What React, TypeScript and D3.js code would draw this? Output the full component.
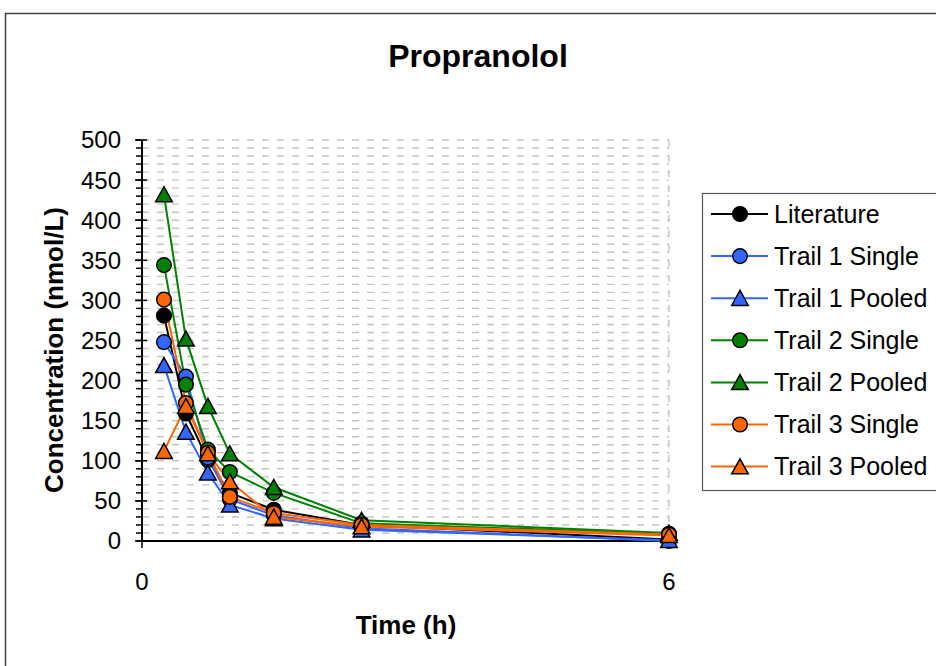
import React from "react";
import * as d3 from "d3";

const times = [0.25, 0.5, 0.75, 1, 1.5, 2.5, 6];
const literature = [281, 159, 101, 60, 39, 20, 2];
const trail1Single = [248, 205, 104, 52, 32, 16, 0];
const trail1Pooled = [219, 136, 85, 45, 28, 14, 1];
const trail2Single = [344, 195, 114, 86, 60, 22, 9];
const trail2Pooled = [432, 252, 168, 109, 67, 26, 10];
const trail3Single = [301, 172, 110, 55, 35, 20, 8];
const trail3Pooled = [112, 168, 109, 74, 30, 18, 7];

const seriesNames = [
  "Literature",
  "Trail 1 Single",
  "Trail 1 Pooled",
  "Trail 2 Single",
  "Trail 2 Pooled",
  "Trail 3 Single",
  "Trail 3 Pooled",
];
const seriesValues = [literature, trail1Single, trail1Pooled, trail2Single, trail2Pooled, trail3Single, trail3Pooled];
const seriesColors = ["#000000", "#3366FF", "#3366FF", "#008000", "#008000", "#FF6600", "#FF6600"];
const seriesMarkers = ["circle", "circle", "triangle", "circle", "triangle", "circle", "triangle"];

const yMajorTicks = [0, 50, 100, 150, 200, 250, 300, 350, 400, 450, 500];
const xTicks = [0, 6];

const FONT = "'Liberation Sans', Arial, Helvetica, sans-serif";

function Marker({ type, x, y, fill }: { type: string; x: number; y: number; fill: string }) {
  if (type === "circle") {
    return <circle cx={x} cy={y} r={7.3} fill={fill} stroke="#000" strokeWidth={1.5} />;
  }
  const path = `M${x},${y - 7.8}L${x + 8.3},${y + 7.2}L${x - 8.3},${y + 7.2}Z`;
  return <path d={path} fill={fill} stroke="#000" strokeWidth={1.5} strokeLinejoin="miter" />;
}

export default function App() {
  const x = d3.scaleLinear().domain([0, 6]).range([142, 669]);
  const y = d3.scaleLinear().domain([0, 500]).range([541, 140]);
  const minorTicks = d3.range(0, 501, 10);
  const line = d3
    .line<number>()
    .x((_, i) => x(times[i]))
    .y((d) => y(d));

  const legendX = 702;
  const legendY = 193;
  const legendStep = 42.1;
  const legendFirst = 214;

  return (
    <svg
      width={936}
      height={666}
      style={{ position: "absolute", left: 0, top: 0, background: "#fff" }}
      fontFamily={FONT}
    >
      <rect x={0} y={0} width={936} height={666} fill="#fff" />
      <rect x={5.5} y={13.5} width={1000} height={800} fill="#fff" stroke="#404040" strokeWidth={1.5} />

      <text x={478} y={67} textAnchor="middle" fontSize={32} fontWeight="bold">
        Propranolol
      </text>

      {/* gridlines */}
      {minorTicks
        .filter((t) => t > 0)
        .map((t) => (
          <line
            key={"g" + t}
            x1={x(0)}
            x2={x(6)}
            y1={y(t)}
            y2={y(t)}
            stroke="#c4c4c4"
            strokeWidth={1.4}
            strokeDasharray="7,8"
          />
        ))}
      <line x1={x(6)} x2={x(6)} y1={y(500)} y2={y(0)} stroke="#c4c4c4" strokeWidth={1.4} strokeDasharray="7,8" />

      {/* axes */}
      {minorTicks.map((t) => (
        <line key={"mt" + t} x1={x(0) - 6} x2={x(0)} y1={y(t)} y2={y(t)} stroke="#000" strokeWidth={1.5} />
      ))}
      {yMajorTicks.map((t) => (
        <line key={"Mt" + t} x1={x(0) - 7} x2={x(0) + 5} y1={y(t)} y2={y(t)} stroke="#000" strokeWidth={1.5} />
      ))}
      <line x1={x(0)} x2={x(0)} y1={y(500)} y2={y(0) + 1} stroke="#000" strokeWidth={2} />
      <line x1={x(0)} x2={x(6)} y1={y(0)} y2={y(0)} stroke="#000" strokeWidth={2} />
      {xTicks.map((t) => (
        <line key={"xt" + t} x1={x(t)} x2={x(t)} y1={y(0) - 5} y2={y(0) + 7} stroke="#000" strokeWidth={1.5} />
      ))}

      {yMajorTicks.map((t) => (
        <text key={"yl" + t} x={121} y={y(t)} dy="0.35em" textAnchor="end" fontSize={24}>
          {t}
        </text>
      ))}
      {xTicks.map((t) => (
        <text key={"xl" + t} x={x(t)} y={590} textAnchor="middle" fontSize={24}>
          {t}
        </text>
      ))}

      <text x={406} y={634} textAnchor="middle" fontSize={26} fontWeight="bold">
        Time (h)
      </text>
      <text transform="translate(63,350) rotate(-90)" textAnchor="middle" fontSize={26} fontWeight="bold">
        Concentration (nmol/L)
      </text>

      {/* series lines */}
      {seriesValues.map((vals, si) => (
        <path key={"l" + si} d={line(vals) || ""} fill="none" stroke={seriesColors[si]} strokeWidth={2} />
      ))}
      {/* markers */}
      {seriesValues.map((vals, si) =>
        vals.map((v, i) => (
          <Marker key={"m" + si + "-" + i} type={seriesMarkers[si]} x={x(times[i])} y={y(v)} fill={seriesColors[si]} />
        ))
      )}

      {/* legend */}
      <rect x={legendX + 0.5} y={legendY + 0.5} width={300} height={297} fill="#fff" stroke="#555" strokeWidth={1.2} />
      {seriesNames.map((name, i) => {
        const ly = legendFirst + i * legendStep;
        return (
          <g key={"lg" + i}>
            <line x1={711} x2={768} y1={ly} y2={ly} stroke={seriesColors[i]} strokeWidth={2} />
            <Marker type={seriesMarkers[i]} x={740} y={ly} fill={seriesColors[i]} />
            <text x={774} y={ly} dy="0.35em" fontSize={25}>
              {name}
            </text>
          </g>
        );
      })}
    </svg>
  );
}
